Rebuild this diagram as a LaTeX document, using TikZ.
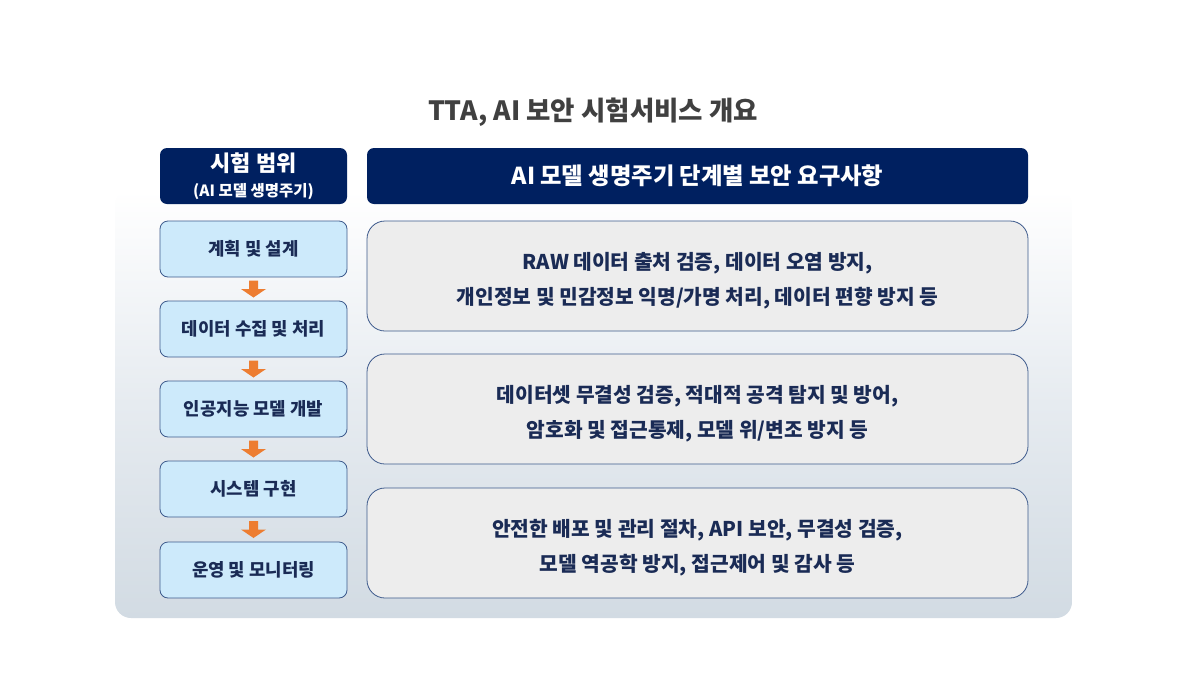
\documentclass[tikz,border=0pt]{standalone}
\usepackage{fontspec}
\setmainfont{Noto Sans CJK KR}
\usetikzlibrary{shadings,calc}
\definecolor{navy}{HTML}{002060}
\definecolor{boxtext}{HTML}{1A2B55}
\definecolor{lightblue}{HTML}{CDEAFB}
\definecolor{lightgray}{HTML}{EDEDED}
\definecolor{edgeblue}{HTML}{3D5A8C}
\definecolor{titlegray}{HTML}{404040}
\definecolor{orangearrow}{HTML}{ED7D31}
\definecolor{panelbot}{HTML}{D2DBE3}
\definecolor{panelmid}{HTML}{E6EBF0}
\tikzset{
  header/.style={fill=navy, rounded corners=7pt, text=white, font=\bfseries, align=center, inner sep=0pt},
  stagebox/.style={fill=lightblue, draw=edgeblue, line width=0.8pt, rounded corners=8pt, text=boxtext, font=\bfseries\fontsize{17.8}{20}\selectfont, minimum width=187pt, minimum height=56pt, inner sep=0pt},
  reqbox/.style={fill=lightgray, draw=edgeblue, line width=0.8pt, rounded corners=18pt, minimum width=661pt, minimum height=110pt, inner sep=0pt},
  reqtext/.style={text=boxtext, font=\bfseries\fontsize{20.3}{35}\selectfont, align=center, inner sep=0pt, yshift=-5pt},
  downarrow/.pic={\fill[orangearrow] (-4.5,-8.5) -- (4.5,-8.5) -- (4.5,0) -- (12.5,0) -- (0,8.5) -- (-12.5,0) -- (-4.5,0) -- cycle;}
}
\begin{document}
\begin{tikzpicture}[x=1pt,y=-1pt]
\useasboundingbox (0,0) rectangle (1200,675);
\fill[white] (0,0) rectangle (1200,675);
% background panel
\shade[top color=white, bottom color=panelbot, middle color=panelmid, rounded corners=16pt] (115,190) rectangle (1072,618);
% title
\node[text=titlegray, font=\bfseries\fontsize{26.5}{30}\selectfont] (title) at (593,112) {TTA, AI 보안 시험서비스 개요};
% headers
\node[header, minimum width=187pt, minimum height=56pt, font=\bfseries\fontsize{22}{25}\selectfont] (lh) at (253.5,176) {시험 범위\\{\fontsize{15.5}{25}\selectfont (AI 모델 생명주기)}};
\node[header, minimum width=661pt, minimum height=56pt, font=\bfseries\fontsize{23.3}{26}\selectfont] (rh) at (697.5,176) {AI 모델 생명주기 단계별 보안 요구사항};
% stages
\node[stagebox] (s1) at (253.5,249) {계획 및 설계};
\node[stagebox] (s2) at (253.5,329) {데이터 수집 및 처리};
\node[stagebox] (s3) at (253.5,409) {인공지능 모델 개발};
\node[stagebox] (s4) at (253.5,489) {시스템 구현};
\node[stagebox] (s5) at (253.5,570) {운영 및 모니터링};
% arrows
\coordinate (m1) at ($(s1.south)!0.5!(s2.north)$);
\coordinate (m2) at ($(s2.south)!0.5!(s3.north)$);
\coordinate (m3) at ($(s3.south)!0.5!(s4.north)$);
\coordinate (m4) at ($(s4.south)!0.5!(s5.north)$);
\pic at (m1) {downarrow};
\pic at (m2) {downarrow};
\pic at (m3) {downarrow};
\pic at (m4) {downarrow};
% requirements
\node[reqbox] (r1) at (697.5,276) {};
\node[reqtext] (t1) at (r1.center) {RAW 데이터 출처 검증, 데이터 오염 방지,\\개인정보 및 민감정보 익명/가명 처리, 데이터 편향 방지 등};
\node[reqbox] (r2) at (697.5,409) {};
\node[reqtext] (t2) at (r2.center) {데이터셋 무결성 검증, 적대적 공격 탐지 및 방어,\\암호화 및 접근통제, 모델 위/변조 방지 등};
\node[reqbox] (r3) at (697.5,543) {};
\node[reqtext] (t3) at (r3.center) {안전한 배포 및 관리 절차, API 보안, 무결성 검증,\\모델 역공학 방지, 접근제어 및 감사 등};
\end{tikzpicture}
\end{document}
